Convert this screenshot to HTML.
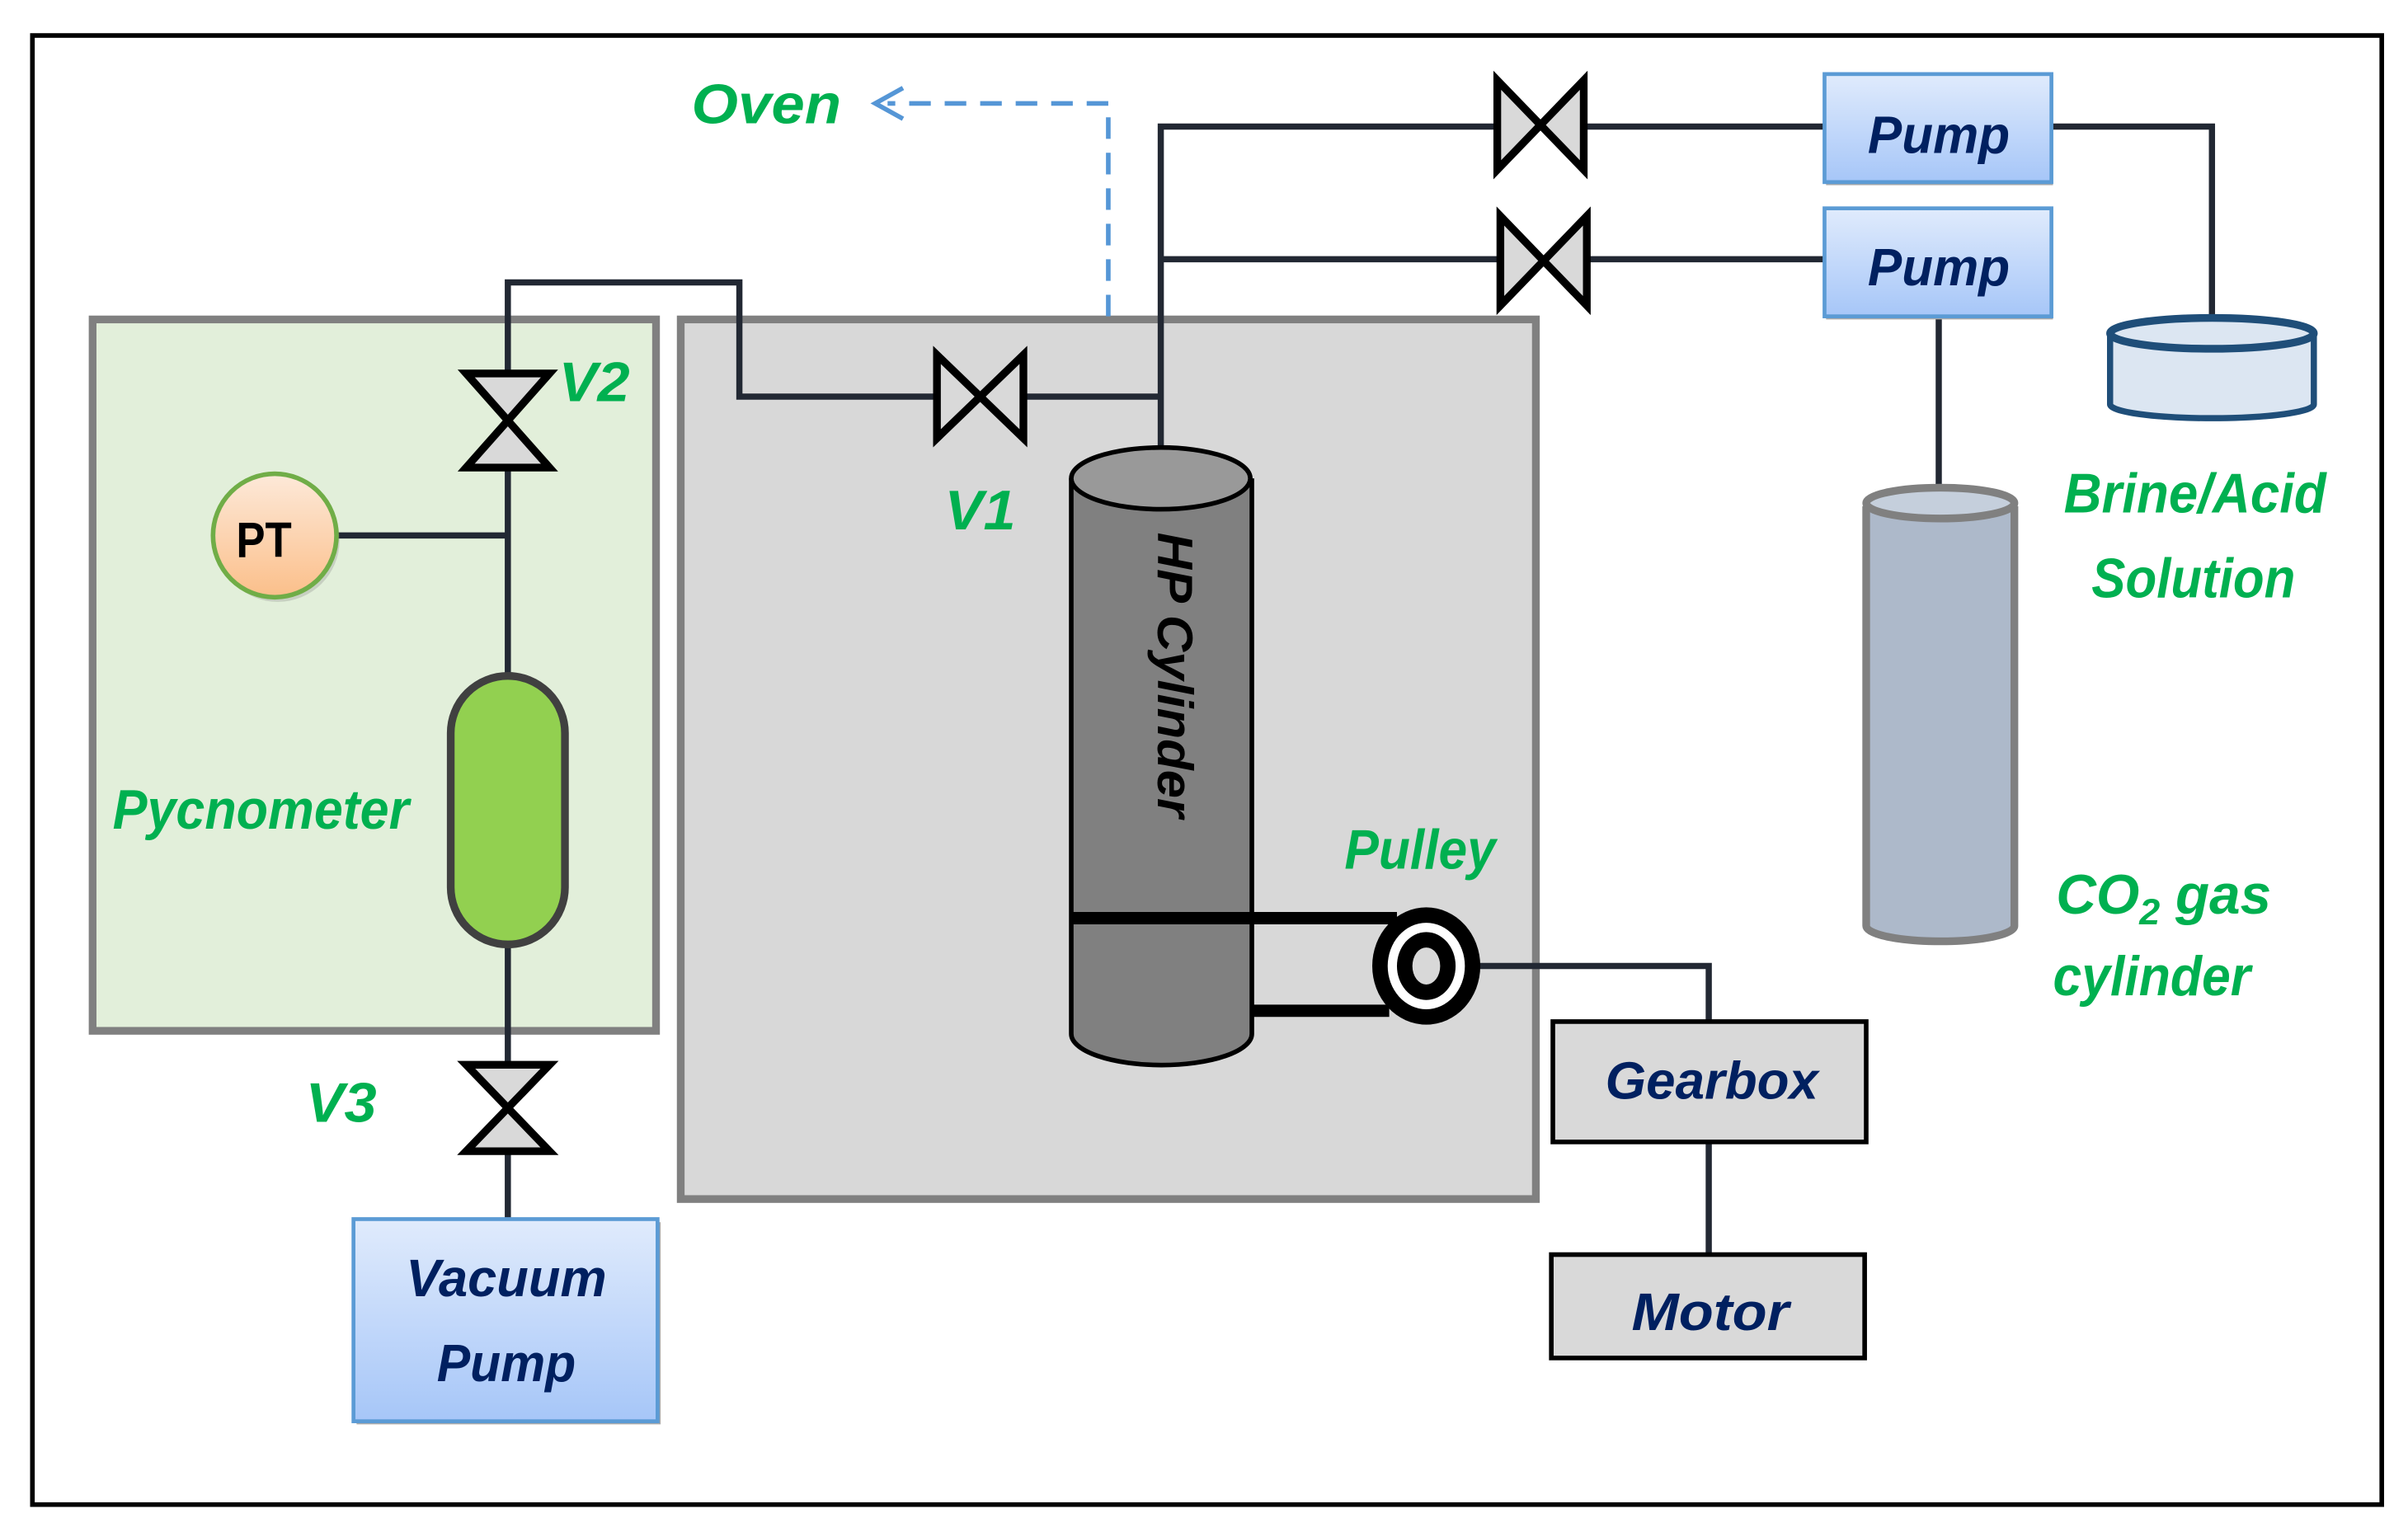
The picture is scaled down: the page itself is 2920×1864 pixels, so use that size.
<!DOCTYPE html>
<html><head><meta charset="utf-8"><style>
html,body{margin:0;padding:0;background:#fff;}
svg{display:block;}
text{font-family:"Liberation Sans Narrow","Liberation Sans",sans-serif;font-weight:bold;font-style:italic;}
.g{fill:#00b050;font-size:36px;}
.n{fill:#002060;font-size:34px;}
</style></head><body>
<svg width="2920" height="1864" viewBox="0 0 1560 996" preserveAspectRatio="none" xmlns="http://www.w3.org/2000/svg">
<defs>
<linearGradient id="pb" x1="0" y1="0" x2="0" y2="1"><stop offset="0" stop-color="#e0ebfc"/><stop offset="1" stop-color="#a6c6f8"/></linearGradient>
<linearGradient id="pt" x1="0" y1="0" x2="0" y2="1"><stop offset="0" stop-color="#fde9d9"/><stop offset="1" stop-color="#fbbf8a"/></linearGradient>
</defs>
<rect x="21" y="23" width="1522" height="952" fill="#fff" stroke="#000" stroke-width="3"/>
<rect x="60" y="207" width="365" height="461" fill="#e2efda" stroke="#808080" stroke-width="5"/>
<rect x="441" y="207" width="554" height="570" fill="#d8d8d8" stroke="#808080" stroke-width="5"/>
<path d="M718 205 V67 H575" fill="none" stroke="#5596d6" stroke-width="3" stroke-dasharray="14,9"/>
<path d="M585 57 L567 67 L585 77" fill="none" stroke="#5596d6" stroke-width="3"/>
<text class="g" x="448" y="80" textLength="97" lengthAdjust="spacingAndGlyphs">Oven</text>
<g stroke="#222833" stroke-width="4" fill="none">
<path d="M329 240 V183 H479 V257 H605"/>
<path d="M665 257 H752"/>
<path d="M752 292 V82 H968"/>
<path d="M1028 82 H1182"/>
<path d="M752 168 H970"/>
<path d="M1030 168 H1182"/>
<path d="M1329 82 H1433 V208"/>
<path d="M1256 205 V314"/>
<path d="M218 347 H329"/>
<path d="M329 305 V438"/>
<path d="M329 612 V688"/>
<path d="M329 748 V790"/>
<path d="M958 626 H1107 V662"/>
<path d="M1107 740 V813"/>
</g>
<g stroke="#000" stroke-width="5" fill="#d9d9d9" stroke-linejoin="miter">
<path d="M302 242 H356 L302 303 H356 Z"/>
<path d="M302 690 H356 L302 746 H356 Z"/>
<path d="M607 230 V284 L663 230 V284 Z"/>
<path d="M970 52 V110 L1026 52 V110 Z"/>
<path d="M972 140 V198 L1028 140 V198 Z"/>
</g>
<text class="g" x="362" y="260" textLength="46" lengthAdjust="spacingAndGlyphs">V2</text>
<text class="g" x="612" y="343" textLength="46" lengthAdjust="spacingAndGlyphs">V1</text>
<text class="g" x="198" y="727" textLength="46" lengthAdjust="spacingAndGlyphs">V3</text>
<circle cx="180" cy="350" r="40" fill="#888" opacity="0.3"/>
<circle cx="178" cy="347" r="40" fill="url(#pt)" stroke="#70ad47" stroke-width="3"/>
<text x="153" y="361" style="font-style:normal;font-size:32px;fill:#000" textLength="36" lengthAdjust="spacingAndGlyphs">PT</text>
<rect x="292" y="438" width="74" height="174" rx="37" fill="#92d050" stroke="#404040" stroke-width="5"/>
<text class="g" x="73" y="537" textLength="192" lengthAdjust="spacingAndGlyphs">Pycnometer</text>
<rect x="231" y="792" width="197" height="131" fill="#aaa"/>
<rect x="229" y="790" width="197" height="131" fill="url(#pb)" stroke="#5b9bd5" stroke-width="2.5"/>
<text class="n" x="263" y="840" textLength="130" lengthAdjust="spacingAndGlyphs">Vacuum</text>
<text class="n" x="283" y="895" textLength="90" lengthAdjust="spacingAndGlyphs">Pump</text>
<rect x="1183" y="50" width="147" height="70" fill="#aaa"/>
<rect x="1182" y="48" width="147" height="70" fill="url(#pb)" stroke="#5b9bd5" stroke-width="2.5"/>
<text class="n" x="1210" y="99" textLength="92" lengthAdjust="spacingAndGlyphs">Pump</text>
<rect x="1183" y="137" width="147" height="70" fill="#aaa"/>
<rect x="1182" y="135" width="147" height="70" fill="url(#pb)" stroke="#5b9bd5" stroke-width="2.5"/>
<text class="n" x="1210" y="185" textLength="92" lengthAdjust="spacingAndGlyphs">Pump</text>
<path d="M1367 216 V262 A66 9 0 0 0 1499 262 V216" fill="#dce6f2" stroke="#1f4e79" stroke-width="4"/>
<ellipse cx="1433" cy="216" rx="66" ry="10" fill="#dce6f2" stroke="#1f4e79" stroke-width="5"/>
<text class="g" x="1337" y="332" textLength="170" lengthAdjust="spacingAndGlyphs">Brine/Acid</text>
<text class="g" x="1355" y="387" textLength="132" lengthAdjust="spacingAndGlyphs">Solution</text>
<path d="M1209 328 V600 A48 10 0 0 0 1305 600 V328" fill="#adb9ca" stroke="#808080" stroke-width="5"/>
<ellipse cx="1257" cy="326" rx="48" ry="10" fill="#c5cfdc" stroke="#808080" stroke-width="5"/>
<text class="g" x="1332" y="592">CO<tspan dy="7" style="font-size:24px">2</tspan><tspan dy="-7"> gas</tspan></text>
<text class="g" x="1330" y="645" textLength="128" lengthAdjust="spacingAndGlyphs">cylinder</text>
<path d="M694 310 V670 A58 20 0 0 0 811 670 V310" fill="#808080" stroke="#000" stroke-width="3"/>
<ellipse cx="752" cy="310" rx="58" ry="20" fill="#999" stroke="#000" stroke-width="3"/>
<text x="750" y="345" transform="rotate(90 750 345)" style="font-size:32px;fill:#000" textLength="185" lengthAdjust="spacingAndGlyphs">HP Cylinder</text>
<path d="M694 595 H905" stroke="#000" stroke-width="8"/>
<path d="M811 655 H900" stroke="#000" stroke-width="8"/>
<ellipse cx="924" cy="626" rx="35" ry="38" fill="#000"/>
<ellipse cx="924" cy="626" rx="25" ry="28" fill="#fff"/>
<ellipse cx="924" cy="626" rx="19" ry="22" fill="#000"/>
<ellipse cx="924" cy="626" rx="9" ry="12" fill="#d8d8d8"/>
<text class="g" x="871" y="563" textLength="98" lengthAdjust="spacingAndGlyphs">Pulley</text>
<rect x="1006" y="662" width="203" height="78" fill="#d9d9d9" stroke="#000" stroke-width="3"/>
<text class="n" x="1040" y="712" textLength="138" lengthAdjust="spacingAndGlyphs">Gearbox</text>
<rect x="1005" y="813" width="203" height="67" fill="#d9d9d9" stroke="#000" stroke-width="3"/>
<text class="n" x="1057" y="862" textLength="102" lengthAdjust="spacingAndGlyphs">Motor</text>
</svg>
</body></html>
